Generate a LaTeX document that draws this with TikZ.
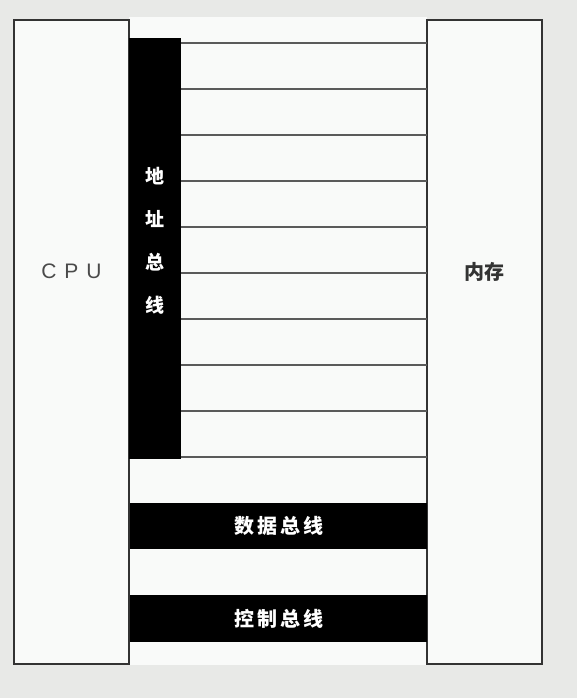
\documentclass[tikz,border=0pt]{standalone}
\usepackage{fontspec}
\setmainfont{Liberation Sans}
\newfontfamily\widesans[LetterSpace=38]{Liberation Sans}
\newfontfamily\cjk{Noto Sans CJK SC}
\newfontfamily\cjkwide[LetterSpace=15]{Noto Sans CJK SC}
\definecolor{pagegray}{HTML}{E8E9E7}
\definecolor{paper}{HTML}{F9FAF9}
\definecolor{edge}{HTML}{333333}
\definecolor{wiregray}{HTML}{5A5A5A}
\definecolor{inkgray}{HTML}{4A4A4A}

\begin{document}
\begin{tikzpicture}[
    x=1pt, y=-1pt,
    unit/.style={draw=edge, line width=2pt, fill=paper, anchor=north west, inner sep=0pt, outer sep=0pt, minimum width=115pt, minimum height=644pt},
    bus/.style={fill=black, anchor=north west, inner sep=0pt, outer sep=0pt},
    bustext/.style={text=white, font=\cjkwide\bfseries\fontsize{20}{20}\selectfont},
    wire/.style={draw=wiregray, line width=1.5pt}
]
\useasboundingbox[fill=pagegray] (0,0) rectangle (577,698);
\fill[paper] (129,17) rectangle (427,665);

\node[unit] (cpu) at (14,20) {};
\node[unit] (mem) at (427,20) {};
\node[text=inkgray, font=\widesans\fontsize{21}{21}\selectfont] (cputext) at (cpu.center |- 0,271) {CPU};
\node[text=edge, font=\cjk\bfseries\fontsize{20}{20}\selectfont] (memtext) at (mem.center |- 0,272) {内存};

% address bus and its lines
\node[bus, minimum width=52pt, minimum height=421pt] (addr) at (129,38) {};
\node[text=white, align=center, font=\cjk\bfseries\fontsize{19}{43}\selectfont] (addrtext) at ([yshift=8pt]addr.center) {地\\址\\总\\线};
\foreach \y in {43,89,...,457}
    \draw[wire] (addr.east |- 0,\y) -- (mem.west |- 0,\y);

\node[bus, minimum width=297pt, minimum height=46pt] (data) at (130,503) {};
\node[bustext] (datatext) at (data.center) {数据总线};
\node[bus, minimum width=297pt, minimum height=47pt] (ctrl) at (130,595) {};
\node[bustext] (ctrltext) at (ctrl.center) {控制总线};
\end{tikzpicture}
\end{document}
